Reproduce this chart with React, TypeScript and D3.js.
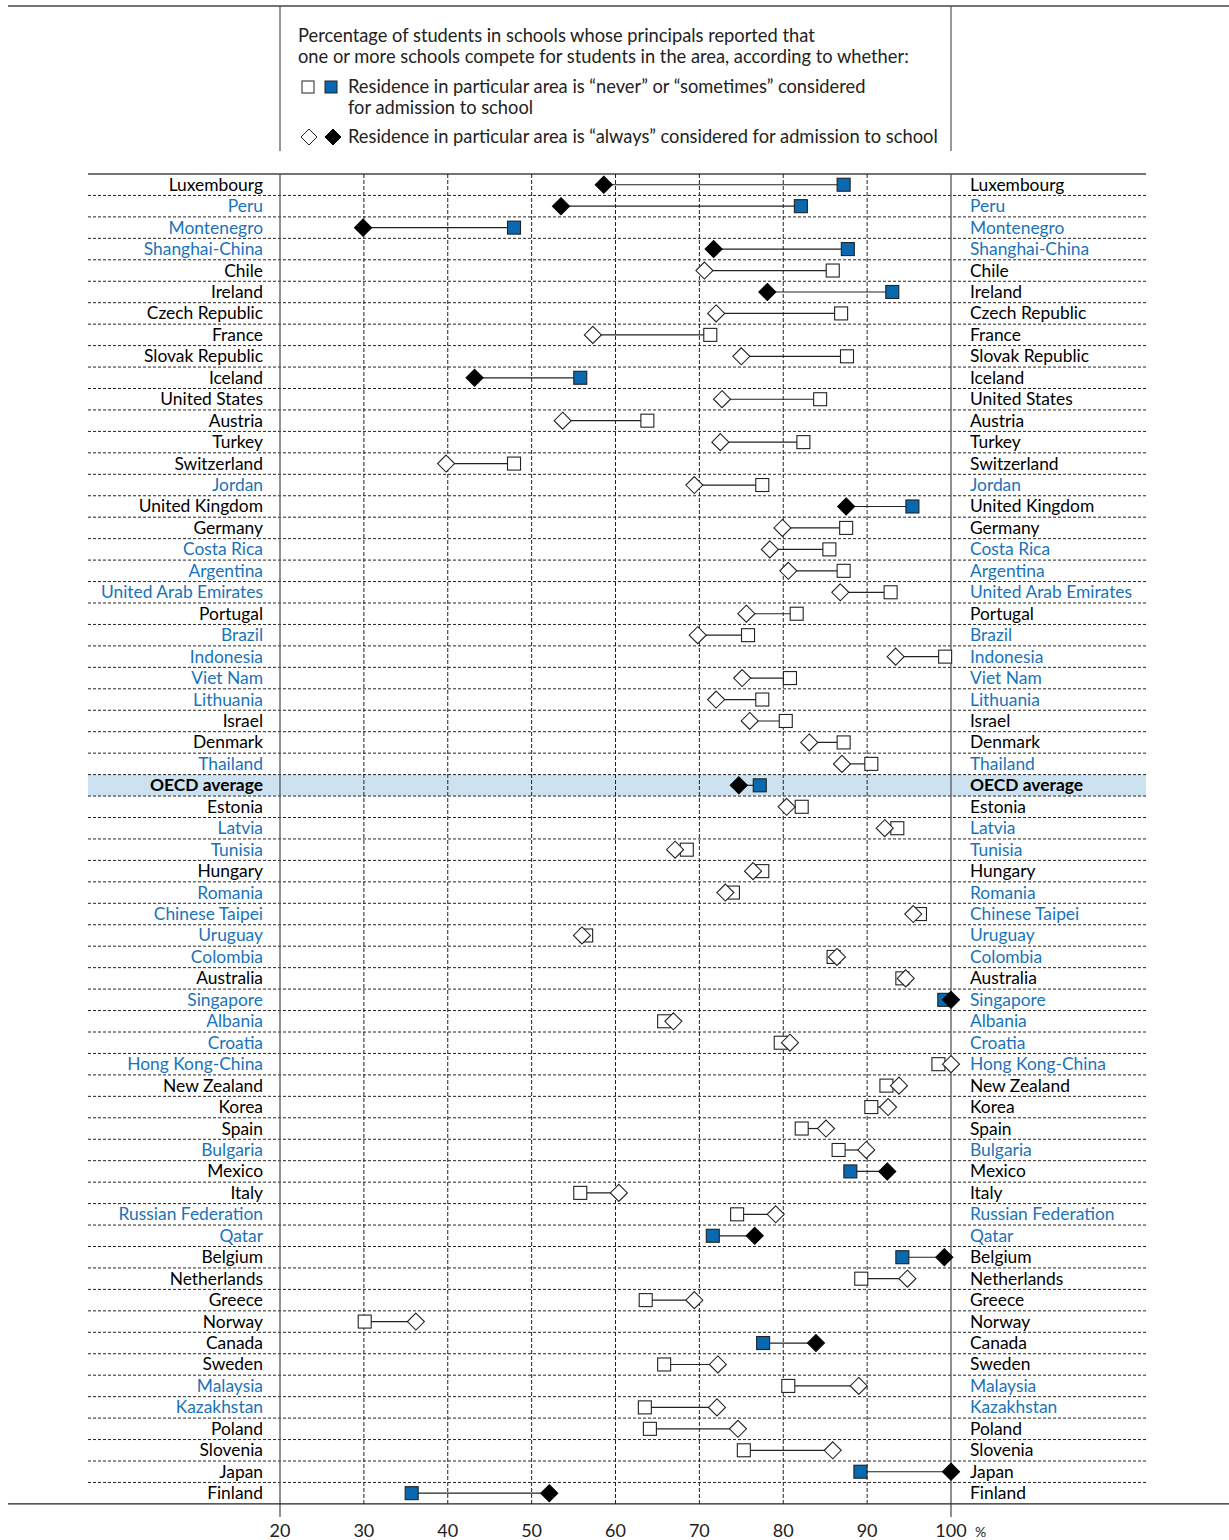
import React from "react";
import * as d3 from "d3";

const countries: string[] = [
  "Luxembourg","Peru","Montenegro","Shanghai-China","Chile","Ireland","Czech Republic","France",
  "Slovak Republic","Iceland","United States","Austria","Turkey","Switzerland","Jordan","United Kingdom",
  "Germany","Costa Rica","Argentina","United Arab Emirates","Portugal","Brazil","Indonesia","Viet Nam",
  "Lithuania","Israel","Denmark","Thailand","OECD average","Estonia","Latvia","Tunisia","Hungary",
  "Romania","Chinese Taipei","Uruguay","Colombia","Australia","Singapore","Albania","Croatia",
  "Hong Kong-China","New Zealand","Korea","Spain","Bulgaria","Mexico","Italy","Russian Federation",
  "Qatar","Belgium","Netherlands","Greece","Norway","Canada","Sweden","Malaysia","Kazakhstan",
  "Poland","Slovenia","Japan","Finland"
];

// "never" or "sometimes" considered (squares)
const neverSometimes: number[] = [
  87.2,82.1,47.9,87.7,85.9,93.0,86.9,71.3,
  87.6,55.8,84.4,63.8,82.4,47.9,77.5,95.4,
  87.5,85.5,87.2,92.8,81.6,75.8,99.3,80.8,
  77.5,80.3,87.2,90.5,77.2,82.2,93.6,68.5,77.5,
  74.0,96.3,56.5,86.0,94.2,99.2,65.8,79.7,
  98.5,92.3,90.5,82.2,86.6,88.0,55.8,74.5,
  71.6,94.2,89.3,63.6,30.1,77.6,65.8,80.6,63.5,
  64.1,75.3,89.2,35.7
];

// "always" considered (diamonds)
const always: number[] = [
  58.6,53.5,29.9,71.7,70.6,78.1,72.0,57.3,
  75.0,43.2,72.7,53.7,72.5,39.8,69.4,87.5,
  79.9,78.4,80.6,86.8,75.6,69.8,93.4,75.1,
  72.0,76.0,83.1,87.0,74.7,80.4,92.1,67.1,76.4,
  73.1,95.5,56.0,86.4,94.6,100,66.9,80.8,
  100,93.8,92.5,85.1,89.9,92.4,60.4,79.1,
  76.6,99.2,94.8,69.4,36.2,83.9,72.2,89.0,72.1,
  74.6,85.9,100,52.1
];

const significant: string[] = [
  "Luxembourg","Peru","Montenegro","Shanghai-China","Ireland","Iceland","United Kingdom",
  "OECD average","Singapore","Mexico","Qatar","Belgium","Canada","Japan","Finland"
];

const partners: string[] = [
  "Peru","Montenegro","Shanghai-China","Jordan","Costa Rica","Argentina","United Arab Emirates",
  "Brazil","Indonesia","Viet Nam","Lithuania","Thailand","Latvia","Tunisia","Romania",
  "Chinese Taipei","Uruguay","Colombia","Singapore","Albania","Croatia","Hong Kong-China",
  "Bulgaria","Russian Federation","Qatar","Malaysia","Kazakhstan"
];

const xTicks: number[] = [20, 30, 40, 50, 60, 70, 80, 90, 100];

const legendTitle: string[] = [
  "Percentage of students in schools whose principals reported that",
  "one or more schools compete for students in the area, according to whether:"
];
const legendSquare: string[] = [
  "Residence in particular area is \u201cnever\u201d or \u201csometimes\u201d considered",
  "for admission to school"
];
const legendDiamond = "Residence in particular area is \u201calways\u201d considered for admission to school";

const FONT = "Lato, 'Open Sans', sans-serif";
const BLUE_TEXT = "#1a73ba";
const BLUE_FILL = "#0868b0";

export default function App() {
  const W = 1229, H = 1540;
  const plotTop = 174;
  const rowH = 21.45;
  const plotBottom = plotTop + rowH * countries.length;
  const x = d3.scaleLinear().domain([20, 100]).range([280, 951]);
  const y = d3.scaleBand<string>().domain(countries).range([plotTop, plotBottom]).paddingInner(0).paddingOuter(0);
  const yc = (c: string) => (y(c) as number) + y.bandwidth() / 2;
  const sq = 13;
  const dm = 8.5;
  const diamond = (cx: number, cy: number, r: number) =>
    `M${cx},${cy - r}L${cx + r},${cy}L${cx},${cy + r}L${cx - r},${cy}Z`;

  return (
    <svg width={W} height={H} style={{ position: "absolute", left: 0, top: 0, background: "#fff" }}
      fontFamily={FONT}>
      {/* Legend box */}
      <line x1={8} x2={1229} y1={6} y2={6} stroke="#444" strokeWidth={1.5} />
      <line x1={280} x2={280} y1={6} y2={151} stroke="#555" strokeWidth={1.2} />
      <line x1={951} x2={951} y1={6} y2={151} stroke="#555" strokeWidth={1.2} />
      {legendTitle.map((t, i) => (
        <text key={t} x={298} y={42 + i * 20.5} fontSize={18.3} fill="#222">{t}</text>
      ))}
      <rect x={302} y={81} width={12} height={12} fill="#fff" stroke="#222" strokeWidth={1} />
      <rect x={325} y={81} width={12} height={12} fill={BLUE_FILL} stroke="#222" strokeWidth={1} />
      {legendSquare.map((t, i) => (
        <text key={t} x={348} y={93 + i * 20.5} fontSize={18.3} fill="#222">{t}</text>
      ))}
      <path d={diamond(309, 137, 8)} fill="#fff" stroke="#222" strokeWidth={1} />
      <path d={diamond(333, 137, 8)} fill="#000" stroke="#000" strokeWidth={1} />
      <text x={348} y={143} fontSize={18.3} fill="#222">{legendDiamond}</text>

      {/* OECD highlight */}
      <rect x={88} y={y("OECD average") as number} width={1146 - 88} height={y.bandwidth()} fill="#cce2f0" />

      {/* Row separators */}
      {countries.slice(1).map((c) => (
        <line key={"sep" + c} x1={88} x2={1146} y1={y(c) as number} y2={y(c) as number}
          stroke="#222" strokeWidth={1} strokeDasharray="3,2" />
      ))}
      <line x1={88} x2={1146} y1={plotTop} y2={plotTop} stroke="#444" strokeWidth={1.5} />

      {/* Vertical gridlines */}
      {xTicks.filter((t) => t > 20 && t < 100).map((t) => (
        <line key={"g" + t} x1={x(t)} x2={x(t)} y1={plotTop} y2={plotBottom}
          stroke="#222" strokeWidth={1} strokeDasharray="4,2" />
      ))}
      <line x1={x(20)} x2={x(20)} y1={plotTop} y2={plotBottom + 13} stroke="#555" strokeWidth={1.3} />
      <line x1={x(100)} x2={x(100)} y1={plotTop} y2={plotBottom + 13} stroke="#555" strokeWidth={1.3} />
      <line x1={8} x2={1229} y1={plotBottom} y2={plotBottom} stroke="#222" strokeWidth={1.3} />

      {/* Axis labels */}
      {xTicks.map((t) => (
        <text key={"t" + t} x={x(t)} y={1537} fontSize={18} textAnchor="middle" fill="#222">{t}</text>
      ))}
      <text x={x(100) + 24} y={1537} fontSize={14} fill="#222">%</text>

      {/* Country labels */}
      {countries.map((c) => {
        const isOecd = c === "OECD average";
        const col = partners.includes(c) ? BLUE_TEXT : "#000";
        return (
          <g key={"l" + c}>
            <text x={263} y={yc(c) + 6} fontSize={17.4} textAnchor="end" fill={col}
              fontWeight={isOecd ? 700 : 400}>{c}</text>
            <text x={970} y={yc(c) + 6} fontSize={17.4} textAnchor="start" fill={col}
              fontWeight={isOecd ? 700 : 400}>{c}</text>
          </g>
        );
      })}

      {/* Marks */}
      {countries.map((c, i) => {
        const sig = significant.includes(c);
        const cy = yc(c);
        const xs = x(neverSometimes[i]);
        const xd = x(always[i]);
        return (
          <g key={"m" + c}>
            <line x1={xs} x2={xd} y1={cy} y2={cy} stroke="#222" strokeWidth={1.2} />
            <rect x={xs - sq / 2} y={cy - sq / 2} width={sq} height={sq}
              fill={sig ? BLUE_FILL : "#fff"} stroke="#222" strokeWidth={1.1} />
            <path d={diamond(xd, cy, dm)} fill={sig ? "#000" : "#fff"} stroke={sig ? "#000" : "#222"} strokeWidth={1.1} />
          </g>
        );
      })}
    </svg>
  );
}
